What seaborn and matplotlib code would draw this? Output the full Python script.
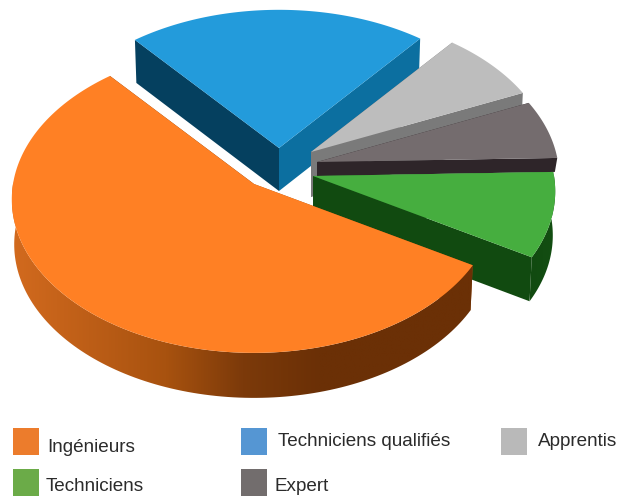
import numpy as np
import seaborn as sns
from matplotlib import pyplot as plt
from matplotlib.patches import Polygon, Rectangle

# Pie values, clockwise from the right side of the orange slice
categories = ['Ingénieurs', 'Techniciens qualifiés', 'Apprentis', 'Expert', 'Techniciens']
shares = [55.4, 22, 7.5, 6.2, 8.9]

# Colours
top_colors = ['#ff8024', '#239bdb', '#bdbdbd', '#746c6e', '#46ae3f']
start_face_colors = ['#a04f12', '#05405f', '#7a7a7a', '#2e2529', '#175a1a']
end_face_colors = ['#6b2e05', '#0c6fa0', '#7a7a7a', '#2e2529', '#114a10']
rim_colors = [['#d26a1e', '#bd5e17', '#a8520f', '#7c3a0a', '#6b3006', '#6b3006', '#6b3006'],
              ['#05405f', '#0c6fa0'], ['#7a7a7a', '#7a7a7a'], ['#2e2529', '#2e2529'],
              ['#114a10', '#134e12']]

# Where each slice sits once exploded (pixels) and how thick it is
apex_x = [254, 279, 311, 317, 313]
apex_y = [184, 148, 152, 162, 176]
depths = [45, 43, 45, 14, 44]
draw_order = [1, 2, 3, 4, 0]

# Legend
legend_names = ['Ingénieurs', 'Techniciens qualifiés', 'Apprentis', 'Techniciens', 'Expert']
legend_colors = ['#ec7c2c', '#5596d3', '#b9b9b9', '#6bab48', '#726d6d']
legend_box_x = [13, 241, 501, 13, 241]
legend_box_y = [428, 428, 428, 469, 469]
legend_text_x = [47, 278, 538, 46, 274]
legend_text_y = [452, 446, 446, 491, 491]

# Projection of the unit disc
RX = 241
RY = 152
PERSP = 0.1
START_ANGLE = 30.5
SHRINK = 0.99


def disc_point(theta):
    u, v = np.cos(theta), np.sin(theta)
    w = 1 - PERSP * v
    return RX * u / w, RY * v / w


sns.set_theme(style='white')
plt.rcParams['font.family'] = ['Liberation Sans', 'DejaVu Sans']

fig = plt.figure(figsize=(6.27, 4.96), dpi=100)
ax = fig.add_axes([0, 0, 1, 1])

edges = START_ANGLE + np.concatenate([[0], np.cumsum(shares)]) * 360 / np.sum(shares)

z = 1
for i in draw_order:
    cx, cy, d = apex_x[i], apex_y[i], depths[i]
    thetas = np.radians(np.linspace(edges[i], edges[i + 1], 160))
    dx, dy = disc_point(thetas)
    rim_x, rim_y = cx + dx, cy + dy
    low_x, low_y = cx + SHRINK * dx, cy + dy + d

    # radial side faces
    ax.fill([cx, rim_x[0], low_x[0], cx], [cy, rim_y[0], low_y[0], cy + d],
            color=start_face_colors[i], lw=0, zorder=z)
    ax.fill([cx, rim_x[-1], low_x[-1], cx], [cy, rim_y[-1], low_y[-1], cy + d],
            color=end_face_colors[i], lw=0, zorder=z)

    # outer rim, only the part turned towards the viewer, shaded left to right
    front = np.sin(thetas) > -0.02
    if front.sum() > 1:
        xs = np.r_[rim_x[front], low_x[front][::-1]]
        ys = np.r_[rim_y[front], low_y[front][::-1]]
        shades = np.array(sns.blend_palette(rim_colors[i], 256))[None, :, :3]
        im = ax.imshow(shades, extent=(xs.min(), xs.max(), ys.max(), ys.min()),
                       aspect='auto', zorder=z + 1)
        im.set_clip_path(Polygon(np.c_[xs, ys], transform=ax.transData))

    # top surface
    ax.fill(np.r_[cx, rim_x], np.r_[cy, rim_y], color=top_colors[i], lw=0, zorder=z + 2)
    z += 3

for name, color, bx, by, tx, ty in zip(legend_names, legend_colors, legend_box_x,
                                       legend_box_y, legend_text_x, legend_text_y):
    ax.add_patch(Rectangle((bx, by), 26, 27, facecolor=color, edgecolor='none', zorder=z))
    ax.text(tx, ty, name, fontsize=13.6, color='#2b2b2b', va='baseline', ha='left', zorder=z)

ax.set_xlim(0, 627)
ax.set_ylim(496, 0)
ax.axis('off')

fig.savefig('out.png', dpi=100)
